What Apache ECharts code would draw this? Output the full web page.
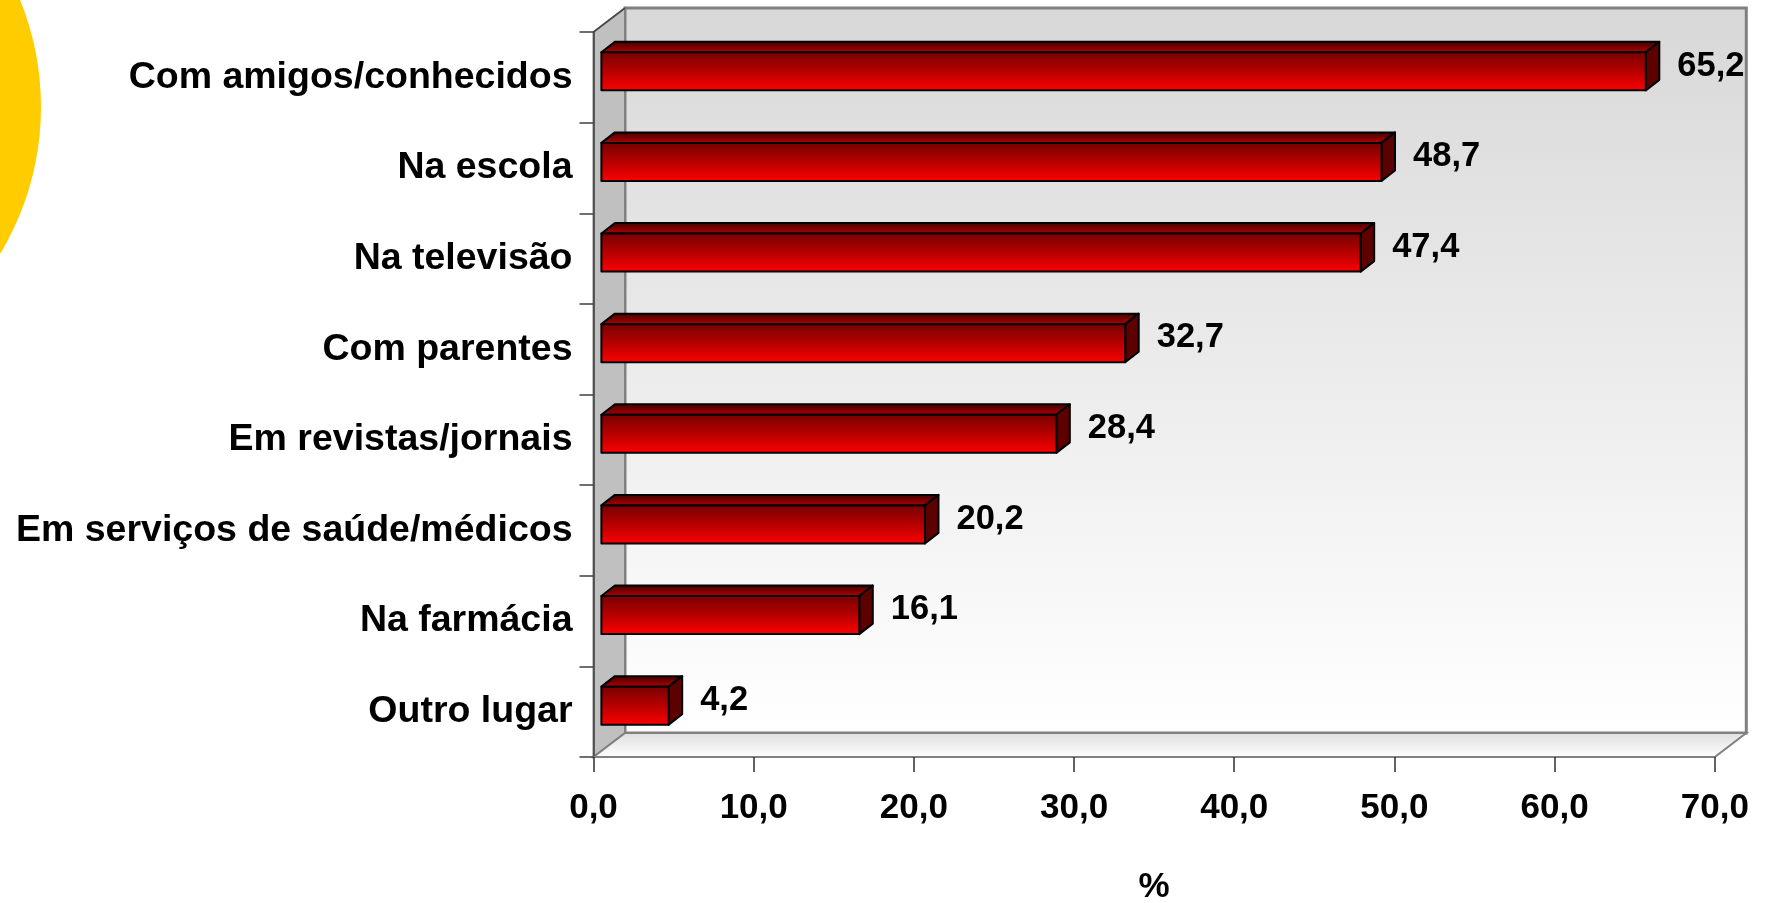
<!DOCTYPE html>
<html><head><meta charset="utf-8">
<script src="https://cdn.jsdelivr.net/npm/echarts@6/dist/echarts.min.js"></script>
<style>html,body{margin:0;padding:0;background:#fff}#c{width:1772px;height:903px}</style>
</head><body><div id="c"></div>
<script>
const categories = ['Com amigos/conhecidos','Na escola','Na televisão','Com parentes','Em revistas/jornais','Em serviços de saúde/médicos','Na farmácia','Outro lugar'];
const values = [65.2, 48.7, 47.4, 32.7, 28.4, 20.2, 16.1, 4.2];
const xMin = 0, xMax = 70, xInterval = 10;
const xAxisName = '%';

const FONT = '"Liberation Sans", Arial, sans-serif';
const fmt = v => Number(v).toFixed(1).replace('.', ',');
const DX = 31.5, DY = -24;           // depth of the 3D box
const FX = 7.9, FY = -6;             // bar front offset
const BX = 13.5, BY = -10.5;         // bar depth

function renderWalls(params, api) {
  if (params.dataIndex !== 0) return;
  const cs = params.coordSys;
  const x = cs.x, y = cs.y, w = cs.width, h = cs.height;
  return {
    type: 'group',
    children: [
      { type: 'rect', shape: { x: x + DX, y: y + DY, width: w, height: h },
        style: { fill: new echarts.graphic.LinearGradient(0, 0, 0, 1, [{offset: 0, color: '#d8d8d8'}, {offset: 1, color: '#ffffff'}]),
                 stroke: '#808080', lineWidth: 3 } },
      { type: 'polygon', shape: { points: [[x, y], [x + DX, y + DY], [x + DX, y + h + DY], [x, y + h]] },
        style: { fill: '#c0c0c0', stroke: '#808080', lineWidth: 2 } },
      { type: 'polygon', shape: { points: [[x, y + h], [x + DX, y + h + DY], [x + w + DX, y + h + DY], [x + w, y + h]] },
        style: { fill: new echarts.graphic.LinearGradient(0, 0, 0, 1, [{offset: 0, color: '#dedede'}, {offset: 1, color: '#ffffff'}]),
                 stroke: '#808080', lineWidth: 2 } },
      { type: 'line', shape: { x1: x, y1: y, x2: x + DX, y2: y + DY }, style: { stroke: '#404040', lineWidth: 1.5 } }
    ]
  };
}

function renderBar(params, api) {
  const v = api.value(0), cat = api.value(1);
  const p0 = api.coord([0, cat]);
  const p1 = api.coord([v, cat]);
  const band = api.size([0, 1])[1];
  const hh = band * 0.42;
  const yc = p0[1] + FY;
  const top = yc - hh / 2, bot = yc + hh / 2;
  const x0 = p0[0] + FX, x1 = p1[0] + FX;
  const outline = { stroke: '#000', lineWidth: 2, lineJoin: 'round' };
  return {
    type: 'group',
    children: [
      { type: 'polygon', shape: { points: [[x0, top], [x0 + BX, top + BY], [x1 + BX, top + BY], [x1, top]] },
        style: Object.assign({ fill: new echarts.graphic.LinearGradient(0, 0, 0, 1, [{offset: 0, color: '#3a0000'}, {offset: 1, color: '#b80000'}]) }, outline) },
      { type: 'polygon', shape: { points: [[x1, top], [x1 + BX, top + BY], [x1 + BX, bot + BY], [x1, bot]] },
        style: Object.assign({ fill: '#5c0000' }, outline) },
      { type: 'rect', shape: { x: x0, y: top, width: x1 - x0, height: hh },
        style: Object.assign({ fill: new echarts.graphic.LinearGradient(0, 0, 0, 1, [{offset: 0, color: '#760000'}, {offset: 0.45, color: '#b00000'}, {offset: 1, color: '#ff0000'}]) }, outline) },
      { type: 'text', x: x1 + BX + 18, y: yc + BY / 2,
        style: { text: fmt(v), fill: '#000', fontSize: 34.5, fontWeight: 'bold', fontFamily: FONT, align: 'left', verticalAlign: 'middle' } }
    ]
  };
}

const chart = echarts.init(document.getElementById('c'), null, { renderer: 'canvas' });
chart.setOption({
  backgroundColor: '#ffffff',
  animation: false,
  graphic: [
    { type: 'circle', shape: { cx: -243, cy: 107, r: 284 }, style: { fill: '#FFCC00' }, z: -10 }
  ],
  grid: { left: 593.5, right: 57.2, top: 32, bottom: 146, containLabel: false, outerBoundsMode: 'none' },
  xAxis: {
    type: 'value', min: xMin, max: xMax, interval: xInterval,
    name: xAxisName, nameLocation: 'middle', nameGap: 113,
    nameTextStyle: { fontSize: 35, fontWeight: 'bold', color: '#000', fontFamily: FONT },
    axisLine: { show: true, lineStyle: { color: '#808080', width: 2 } },
    axisTick: { show: true, length: 15, lineStyle: { color: '#303030', width: 1.5 } },
    axisLabel: { formatter: fmt, fontSize: 35, fontWeight: 'bold', color: '#000', fontFamily: FONT, margin: 34 },
    splitLine: { show: false }
  },
  yAxis: {
    type: 'category', inverse: true, data: categories,
    axisLine: { show: true, lineStyle: { color: '#404040', width: 1.5 } },
    axisTick: { show: true, length: 14, lineStyle: { color: '#404040', width: 1.5 } },
    axisLabel: { fontSize: 37.5, fontWeight: 'bold', color: '#000', fontFamily: FONT, margin: 21, padding: [7, 0, 0, 0] },
    splitLine: { show: false }
  },
  series: [
    { type: 'custom', name: 'walls', z: -1, silent: true, renderItem: renderWalls, data: [[0, 0]], clip: false },
    { type: 'custom', name: 'bars', z: 3, renderItem: renderBar, clip: false,
      encode: { x: 0, y: 1 },
      data: values.map((v, i) => [v, i]) }
  ]
});
</script>
</body></html>
